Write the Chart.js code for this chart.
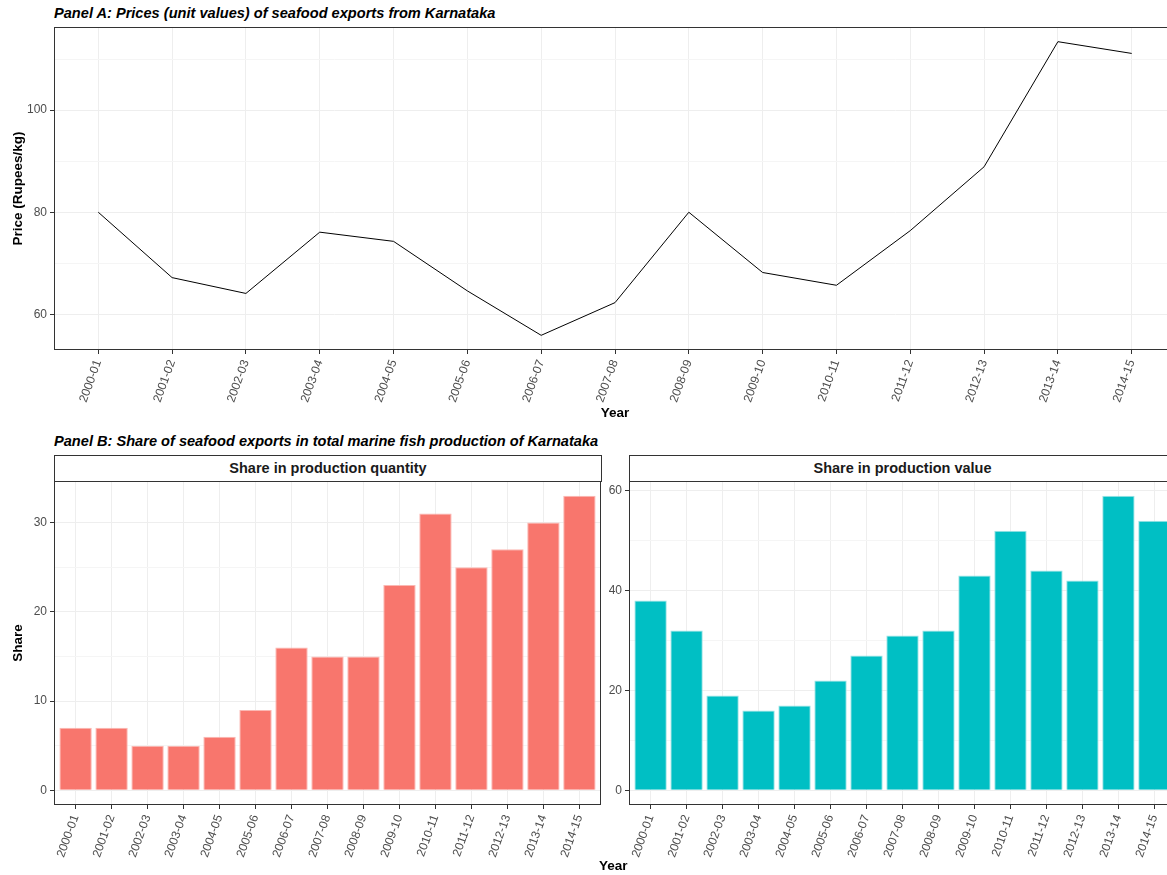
<!DOCTYPE html>
<html>
<head>
<meta charset="utf-8">
<script src="https://cdn.jsdelivr.net/npm/chart.js@4"></script>
<style>
  html, body { margin: 0; padding: 0; background: #fff; width: 1167px; height: 875px; overflow: hidden; }
  #wrap { position: relative; width: 1176px; height: 875px; font-family: "Liberation Sans", Arial, sans-serif; }
  canvas { position: absolute; }
  .ptitle { position: absolute; left: 54px; font-size: 14.6px; line-height: 16px; font-weight: bold; font-style: italic; color: #000; white-space: nowrap; }
  .strip { position: absolute; top: 455px; height: 25px; border: 1px solid #333; box-sizing: content-box;
           font-size: 14.5px; font-weight: bold; line-height: 25px; text-align: center; color: #1a1a1a; background: #fff; }
  .xlab { position: absolute; font-size: 13.5px; font-weight: bold; color: #000; }
</style>
</head>
<body>
<div id="wrap">
  <div class="ptitle" style="top:5px">Panel A: Prices (unit values) of seafood exports from Karnataka</div>
  <canvas id="priceChart" width="1176" height="425" style="left:0;top:0"></canvas>

  <div class="ptitle" style="top:433px">Panel B: Share of seafood exports in total marine fish production of Karnataka</div>
  <div class="strip" style="left:54px;width:546px">Share in production quantity</div>
  <div class="strip" style="left:629px;width:545px">Share in production value</div>
  <canvas id="qtyChart" width="610" height="405" style="left:0;top:470px"></canvas>
  <canvas id="valChart" width="575" height="405" style="left:601px;top:470px"></canvas>
  <div class="xlab" style="left:599px;top:858px">Year</div>
</div>

<script>
// data
const years = ['2000-01', '2001-02', '2002-03', '2003-04', '2004-05', '2005-06', '2006-07', '2007-08',
               '2008-09', '2009-10', '2010-11', '2011-12', '2012-13', '2013-14', '2014-15'];
const price = [80.0, 67.2, 64.1, 76.1, 74.3, 64.6, 55.9, 62.3, 80.0, 68.2, 65.7, 76.4, 88.9, 113.4, 111.1];
const shareQty = [7, 7, 5, 5, 6, 9, 16, 15, 15, 23, 31, 25, 27, 30, 33];
const shareVal = [38, 32, 19, 16, 17, 22, 27, 31, 32, 43, 52, 44, 42, 59, 54];

const priceTicks = [60, 80, 100];
const priceMinor = [70, 90, 110];
const qtyTicks = [0, 10, 20, 30];
const qtyMinor = [5, 15, 25];
const valTicks = [0, 20, 40, 60];
const valMinor = [10, 30, 50];

Chart.defaults.font.family = '"Liberation Sans", Arial, sans-serif';
Chart.defaults.animation = false;

const tickGrey = '#4D4D4D';
const frame = '#333333';

// ggplot-like panel border
const panelBorder = {
    id: 'panelBorder',
    afterDraw(chart) {
        const { ctx, chartArea: a } = chart;
        ctx.save();
        ctx.strokeStyle = frame;
        ctx.lineWidth = 1;
        ctx.strokeRect(Math.round(a.left) + 0.5, Math.round(a.top) + 0.5,
                       Math.round(a.right - a.left) - 1, Math.round(a.bottom - a.top) - 1);
        ctx.restore();
    }
};

// ggplot expands continuous scales by 5% of the data range
function expanded(values, lo) {
    const mn = lo !== undefined ? Math.min(lo, ...values) : Math.min(...values);
    const mx = Math.max(...values);
    const pad = (mx - mn) * 0.05;
    return { min: mn - pad, max: mx + pad };
}

function xAxis(height) {
    return {
        type: 'linear',
        offset: false,
        min: -0.6,
        max: years.length - 1 + 0.6,
        afterBuildTicks: (s) => { s.ticks = years.map((_, i) => ({ value: i })); },
        afterFit: (s) => { s.height = height; },
        border: { display: false },
        grid: { offset: false, color: '#EEEEEE', lineWidth: 1, tickLength: 4, tickColor: frame },
        ticks: {
            autoSkip: false, minRotation: 70, maxRotation: 70, padding: 4,
            color: tickGrey, font: { size: 12 },
            callback: (v) => years[v]
        }
    };
}

function yAxis(range, major, minor, width, title) {
    return {
        type: 'linear',
        min: range.min,
        max: range.max,
        afterBuildTicks: (s) => {
            s.ticks = major.concat(minor).sort((a, b) => a - b).map((v) => ({ value: v }));
        },
        afterFit: (s) => { s.width = width; },
        border: { display: false },
        grid: {
            lineWidth: 1, tickLength: 4,
            color: (c) => major.includes(c.tick.value) ? '#EEEEEE' : '#F5F5F5',
            tickColor: (c) => major.includes(c.tick.value) ? frame : 'rgba(0,0,0,0)'
        },
        ticks: {
            padding: 3, color: tickGrey, font: { size: 12 },
            callback: (v) => major.includes(v) ? String(v) : ''
        },
        title: {
            display: !!title, text: title, color: '#000',
            font: { size: 13.5, weight: 'bold' }, padding: { top: 10, bottom: 0 }
        }
    };
}

// Panel A
new Chart(document.getElementById('priceChart'), {
    type: 'line',
    data: {
        datasets: [{
            data: price.map((v, i) => ({ x: i, y: v })),
            borderColor: '#000000',
            borderWidth: 1,
            pointRadius: 0,
            tension: 0,
            fill: false
        }]
    },
    options: {
        responsive: false,
        layout: { padding: { top: 27, left: 0, right: 0, bottom: 4 } },
        plugins: { legend: { display: false }, tooltip: { enabled: false } },
        scales: {
            x: Object.assign(xAxis(71), {
                title: { display: true, text: 'Year', color: '#000', font: { size: 13.5, weight: 'bold' }, padding: 0 }
            }),
            y: yAxis(expanded(price), priceTicks, priceMinor, 54, 'Price (Rupees/kg)')
        }
    },
    plugins: [panelBorder]
});

function barChart(id, values, colour, edge, major, minor, yWidth, yTitle, padRight) {
    return new Chart(document.getElementById(id), {
        type: 'bar',
        data: {
            datasets: [{
                data: values.map((v, i) => ({ x: i, y: v })),
                backgroundColor: colour,
                borderColor: edge,
                borderWidth: 1,
                categoryPercentage: 1,
                barPercentage: 0.9
            }]
        },
        options: {
            responsive: false,
            layout: { padding: { top: 11, left: 0, right: padRight, bottom: 0 } },
            plugins: { legend: { display: false }, tooltip: { enabled: false } },
            scales: {
                x: xAxis(70),
                y: yAxis(expanded(values, 0), major, minor, yWidth, yTitle)
            }
        },
        plugins: [panelBorder]
    });
}

// Panel B
barChart('qtyChart', shareQty, '#F8766D', '#FBB8B3', qtyTicks, qtyMinor, 54, 'Share', 9);
barChart('valChart', shareVal, '#00BFC4', '#9FE3E5', valTicks, valMinor, 28, '', 0);
</script>
</body>
</html>
